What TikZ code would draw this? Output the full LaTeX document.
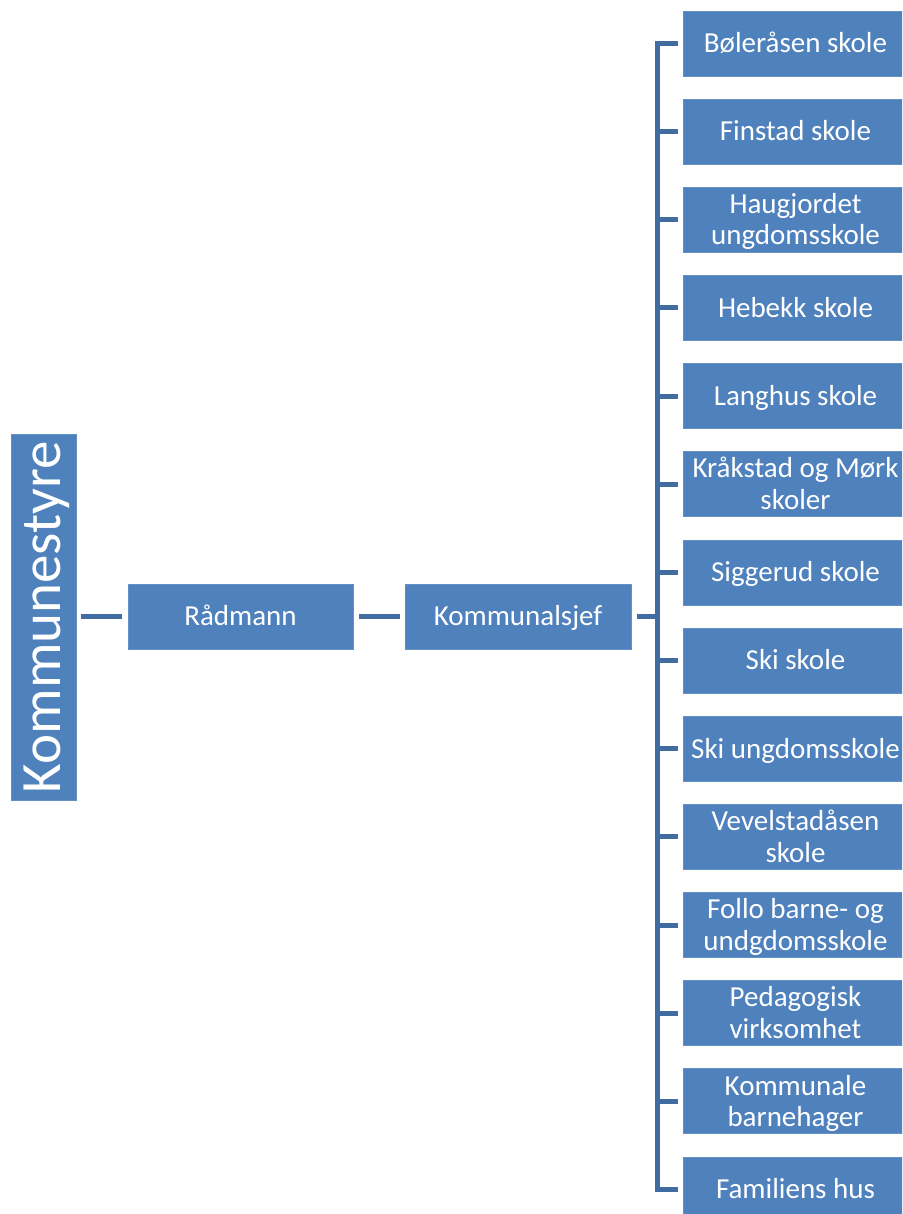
\documentclass[tikz,border=0pt]{standalone}
\usepackage{fontspec}
\setmainfont{Carlito}
\definecolor{boxblue}{HTML}{4F81BD}
\definecolor{boxedge}{HTML}{6590C6}
\definecolor{lineblue}{HTML}{416CA2}
\newcommand\twolines[2]{\begin{tabular}[t]{@{}c@{}}#1\\#2\end{tabular}}
\begin{document}
\begin{tikzpicture}[x=1pt,y=-1pt,
  orgbox/.style={fill=boxblue, draw=boxedge, line width=0.7pt,
    minimum width=225pt, minimum height=65pt, inner sep=0pt, outer sep=0pt},
  lbl/.style={text=white, font=\fontsize{29}{31.5}\selectfont, inner sep=0pt, anchor=base},
  conn/.style={draw=lineblue, line width=5pt},
]
\useasboundingbox (0,0) rectangle (902,1214);
\clip (0,0) rectangle (902,1214);

% left chain
\node[orgbox, minimum width=65pt, minimum height=366pt] (ks) at (43.5,617) {};
\node[lbl, rotate=90, font=\fontsize{57}{60}\selectfont] (kst) at (60,617) {Kommunestyre};

\node[orgbox] (rd) at (240.5,616.5) {};
\node[lbl] (rdt) at ([yshift=-9.3pt]rd.center) {Rådmann};

\node[orgbox, minimum width=226pt] (kj) at (518,616.5) {};
\node[lbl] (kjt) at ([yshift=-9.3pt]kj.center) {Kommunalsjef};

% children boxes
\foreach \i in {1,...,14}{
  \node[orgbox] (c\i) at (795.5,{43.5+88.15*(\i-1)}) {};
}
\node[lbl] at ([yshift=-9.3pt]c1.center) {Bøleråsen skole};
\node[lbl] at ([yshift=-9.3pt]c2.center) {Finstad skole};
\node[lbl] at ([yshift=6.3pt]c3.center) {\twolines{Haugjordet}{ungdomsskole}};
\node[lbl] at ([yshift=-9.3pt]c4.center) {Hebekk skole};
\node[lbl] at ([yshift=-9.3pt]c5.center) {Langhus skole};
\node[lbl] at ([yshift=6.3pt]c6.center) {\twolines{Kråkstad og Mørk}{skoler}};
\node[lbl] at ([yshift=-9.3pt]c7.center) {Siggerud skole};
\node[lbl] at ([yshift=-9.3pt]c8.center) {Ski skole};
\node[lbl] at ([yshift=-9.3pt]c9.center) {Ski ungdomsskole};
\node[lbl] at ([yshift=6.3pt]c10.center) {\twolines{Vevelstadåsen}{skole}};
\node[lbl] at ([yshift=6.3pt]c11.center) {\twolines{Follo barne- og}{undgdomsskole}};
\node[lbl] at ([yshift=6.3pt]c12.center) {\twolines{Pedagogisk}{virksomhet}};
\node[lbl] at ([yshift=6.3pt]c13.center) {\twolines{Kommunale}{barnehager}};
\node[lbl] at ([yshift=-9.3pt]c14.center) {Familiens hus};

% connectors
\coordinate (bar) at (657,617);
\draw[conn] ([xshift=5pt]ks.east |- rd.west) -- ([xshift=-6pt]rd.west);
\draw[conn] ([xshift=6pt]rd.east) -- ([xshift=-5pt]kj.west);
\draw[conn] ([xshift=6pt]kj.east) -- (bar |- kj.east);
\draw[conn, line join=miter] ([xshift=-5pt]c1.west) -- (bar |- c1.west)
  -- (bar |- c14.west) -- ([xshift=-5pt]c14.west);
\foreach \i in {2,...,13}{
  \draw[conn] (bar |- c\i.west) -- ([xshift=-5pt]c\i.west);
}
\end{tikzpicture}
\end{document}
